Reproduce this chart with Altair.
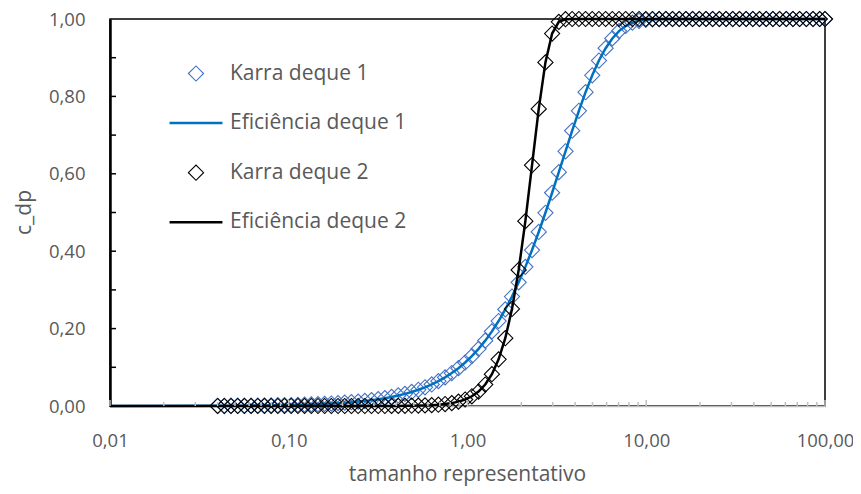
import altair as alt
import pandas as pd

# representative size (log-spaced classes)
X = [0.04, 0.0436, 0.04752, 0.0518, 0.05646, 0.06154, 0.06708, 0.07312, 0.0797, 0.08687,
     0.09469, 0.1032, 0.1125, 0.1226, 0.1337, 0.1457, 0.1588, 0.1731, 0.1887, 0.2057,
     0.2242, 0.2444, 0.2664, 0.2903, 0.3165, 0.3449, 0.376, 0.4098, 0.4467, 0.4869,
     0.5307, 0.5785, 0.6306, 0.6873, 0.7492, 0.8166, 0.8901, 0.9702, 1.0575, 1.1527,
     1.2564, 1.3695, 1.4927, 1.6271, 1.7735, 1.9331, 2.1071, 2.2967, 2.5034, 2.7288,
     2.9743, 3.242, 3.5338, 3.8518, 4.1985, 4.5764, 4.9882, 5.4372, 5.9265, 6.4599,
     7.0413, 7.675, 8.3658, 9.1187, 9.9394, 10.834, 11.809, 12.872, 14.03, 15.293,
     16.669, 18.17, 19.805, 21.587, 23.53, 25.648, 27.956, 30.472, 33.215, 36.204,
     39.463, 43.014, 46.885, 51.105, 55.704, 60.718, 66.182, 72.139, 78.631, 85.708,
     93.422, 100.0]

# deque 1
Y1 = [0.0005, 0.0006, 0.0007, 0.0008, 0.0009, 0.0011, 0.0013, 0.0015, 0.0017, 0.0020,
      0.0023, 0.0026, 0.0031, 0.0035, 0.0041, 0.0047, 0.0055, 0.0063, 0.0073, 0.0085,
      0.0098, 0.0114, 0.0132, 0.0152, 0.0176, 0.0203, 0.0235, 0.0272, 0.0314, 0.0363,
      0.0419, 0.0483, 0.0557, 0.0642, 0.0739, 0.0851, 0.0978, 0.1124, 0.1289, 0.1477,
      0.1689, 0.1928, 0.2196, 0.2496, 0.2828, 0.3195, 0.3595, 0.4030, 0.4497, 0.4993,
      0.5510, 0.6043, 0.6581, 0.7114, 0.7628, 0.8109, 0.8546, 0.8927, 0.9246, 0.9498,
      0.9687, 0.9819, 0.9904, 0.9954, 0.9980, 0.9993, 0.9998, 1.0, 1.0, 1.0,
      1.0, 1.0, 1.0, 1.0, 1.0, 1.0, 1.0, 1.0, 1.0, 1.0,
      1.0, 1.0, 1.0, 1.0, 1.0, 1.0, 1.0, 1.0, 1.0, 1.0,
      1.0, 1.0]

# deque 2
Y2 = [0.0, 0.0, 0.0, 0.0, 0.0, 0.0, 0.0, 0.0, 0.0, 0.0,
      0.0, 0.0, 0.0, 0.0, 0.0, 0.0, 0.0, 0.0, 0.0, 0.0,
      0.0, 0.0, 0.0, 0.0, 0.0, 0.0001, 0.0002, 0.0003, 0.0004, 0.0007,
      0.0010, 0.0015, 0.0022, 0.0034, 0.0050, 0.0075, 0.0112, 0.0168, 0.0251, 0.0374,
      0.0555, 0.0821, 0.1206, 0.1752, 0.2508, 0.3515, 0.4776, 0.6222, 0.7677, 0.8879,
      0.9624, 0.9927, 0.9994, 1.0, 1.0, 1.0, 1.0, 1.0, 1.0, 1.0,
      1.0, 1.0, 1.0, 1.0, 1.0, 1.0, 1.0, 1.0, 1.0, 1.0,
      1.0, 1.0, 1.0, 1.0, 1.0, 1.0, 1.0, 1.0, 1.0, 1.0,
      1.0, 1.0, 1.0, 1.0, 1.0, 1.0, 1.0, 1.0, 1.0, 1.0,
      1.0, 1.0]

LINE_START_X = [0.01]
LINE_START_Y = [0.0]

SERIES = ["Karra deque 1", "Eficiência deque 1", "Karra deque 2", "Eficiência deque 2"]
COLORS = ["#4472C4", "#0070C0", "#000000", "#000000"]
SHAPES = ["diamond", "stroke", "diamond", "stroke"]
SIZES = [230, 2800, 230, 2800]
WIDTHS = [1.1, 2.5, 1.1, 2.5]

X_LABELS = [0.01, 0.1, 1, 10, 100]
Y_LABELS = [0, 0.2, 0.4, 0.6, 0.8, 1.0]
Y_TICKS = [0.1, 0.2, 0.3, 0.4, 0.5, 0.6, 0.7, 0.8, 0.9]
X_MAJOR = [0.01, 0.1, 1, 10, 100]
X_MINOR = [0.02, 0.03, 0.04, 0.05, 0.06, 0.07, 0.08, 0.09,
           0.2, 0.3, 0.4, 0.5, 0.6, 0.7, 0.8, 0.9,
           2, 3, 4, 5, 6, 7, 8, 9,
           20, 30, 40, 50, 60, 70, 80, 90]

FONT = "Open Sans"
GREY = "#595959"

pts1 = pd.DataFrame({"x": X, "y": Y1, "series": SERIES[0]})
pts2 = pd.DataFrame({"x": X, "y": Y2, "series": SERIES[2]})
line1 = pd.DataFrame({"x": LINE_START_X + X, "y": LINE_START_Y + Y1})
line2 = pd.DataFrame({"x": LINE_START_X + X, "y": LINE_START_Y + Y2})

xs = alt.Scale(type="log", domain=[0.01, 100], nice=False)
ys = alt.Scale(domain=[0, 1], nice=False, zero=False)

label_expr = "replace(format(datum.value, '.2f'), '.', ',')"

xaxis = alt.Axis(values=X_LABELS, labelExpr=label_expr, grid=False, ticks=False, tickSize=0,
                 labelPadding=25, labelFont=FONT, labelFontSize=18.5, labelColor=GREY,
                 labelFlush=False, labelOverlap=False,
                 domainColor="#BFBFBF", domainWidth=1.5,
                 title="tamanho representativo", titleFont=FONT, titleFontSize=21,
                 titleFontWeight="normal", titleColor=GREY, titleX=357, titleY=74,
                 titleBaseline="alphabetic", titleAlign="center")
yaxis = alt.Axis(values=Y_LABELS, labelExpr=label_expr, grid=False, ticks=False, tickSize=0,
                 labelPadding=25, labelFont=FONT, labelFontSize=18.5, labelColor=GREY,
                 labelFlush=False, labelOverlap=False,
                 domainColor="#000000", domainWidth=2.5,
                 title="c_dp", titleFont=FONT, titleFontSize=21, titleFontWeight="normal",
                 titleColor=GREY, titleX=-80, titleY=193, titleAngle=270,
                 titleBaseline="alphabetic", titleAlign="center")

leg = alt.Legend(title=None, orient="none", legendX=58, legendY=39.5, padding=0,
                 labelFont=FONT, labelFontSize=21, labelColor=GREY, labelOffset=6,
                 labelLimit=400, clipHeight=30, rowPadding=19.6,
                 labelExpr="indexof(datum.label, 'Karra') == 0 ? '\u00a0' + datum.label : datum.label")


def point_layer(df):
    return alt.Chart(df).mark_point(filled=False, opacity=1).encode(
        x=alt.X("x:Q", scale=xs, axis=xaxis),
        y=alt.Y("y:Q", scale=ys, axis=yaxis),
        color=alt.Color("series:N", scale=alt.Scale(domain=SERIES, range=COLORS), legend=leg),
        shape=alt.Shape("series:N", scale=alt.Scale(domain=SERIES, range=SHAPES), legend=leg),
        size=alt.Size("series:N", scale=alt.Scale(type="ordinal", domain=SERIES, range=SIZES), legend=leg),
        strokeWidth=alt.StrokeWidth("series:N", scale=alt.Scale(type="ordinal", domain=SERIES, range=WIDTHS), legend=leg),
    )


def line_layer(df, color):
    return alt.Chart(df).mark_line(color=color, strokeWidth=2.5).encode(
        x=alt.X("x:Q", scale=xs, axis=xaxis),
        y=alt.Y("y:Q", scale=ys, axis=yaxis),
    )


yt = alt.Chart(pd.DataFrame({"y": Y_TICKS})).mark_rule(color="black", strokeWidth=1.5).encode(
    y=alt.Y("y:Q", scale=ys, axis=yaxis), x=alt.value(0), x2=alt.value(6))
xmaj = alt.Chart(pd.DataFrame({"x": X_MAJOR})).mark_rule(color="#BFBFBF", strokeWidth=1.5).encode(
    x=alt.X("x:Q", scale=xs, axis=xaxis), y=alt.value(387), y2=alt.value(381))
xmin = alt.Chart(pd.DataFrame({"x": X_MINOR})).mark_rule(color="#BFBFBF", strokeWidth=1.5).encode(
    x=alt.X("x:Q", scale=xs, axis=xaxis), y=alt.value(387), y2=alt.value(383))

chart = alt.layer(
    point_layer(pts1), line_layer(line1, "#0070C0"),
    point_layer(pts2), line_layer(line2, "#000000"),
    xmin, xmaj, yt,
).properties(
    width=715, height=387,
    background="white",
    padding={"left": 102, "top": 11, "right": 28, "bottom": 80},
    autosize=alt.AutoSizeParams(type="none"),
).configure_view(stroke="#000000", strokeWidth=1.5)

chart.save("out.html", embed_options={"renderer": "svg", "actions": False})
